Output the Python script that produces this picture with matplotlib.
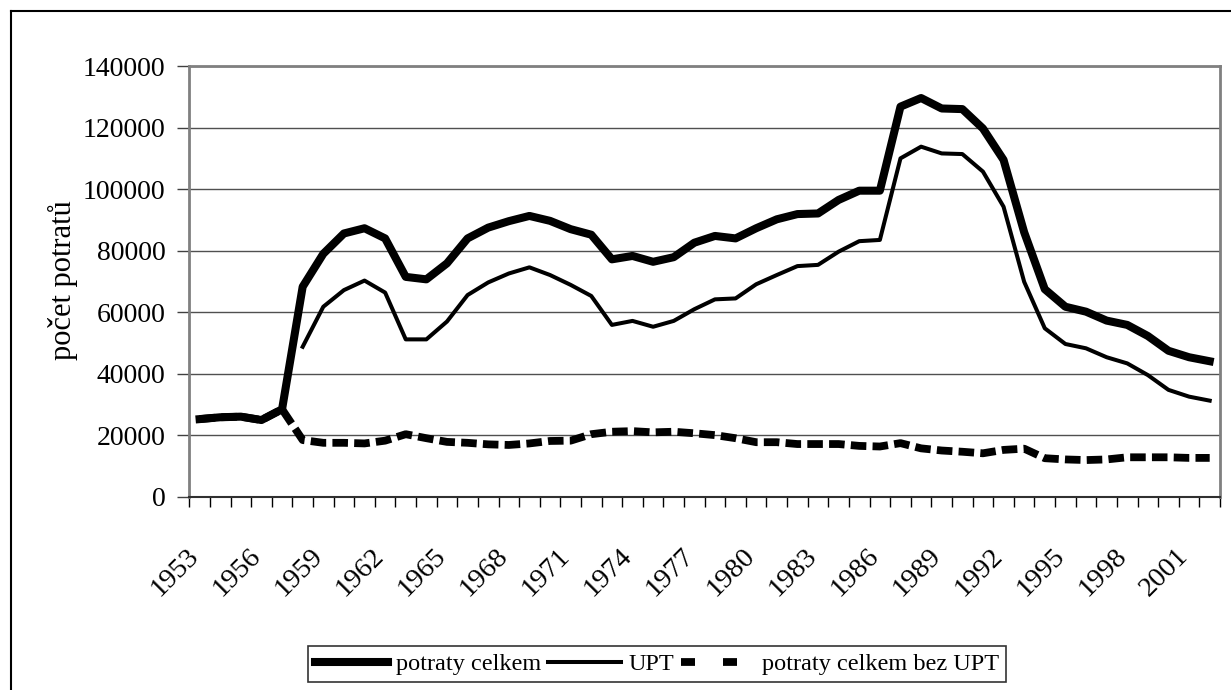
import numpy as np
import matplotlib
matplotlib.use('Agg')
import matplotlib.pyplot as plt
from matplotlib.lines import Line2D

plt.rcParams['font.family'] = ['Liberation Serif', 'DejaVu Serif']

years = list(range(1953, 2003))

potraty_celkem = [25300, 25900, 26100, 25000, 28500, 68300, 79000, 85600, 87300, 84000,
                  71500, 70700, 75900, 84000, 87500, 89600, 91300, 89700, 87000, 85200,
                  77200, 78300, 76400, 77900, 82600, 84800, 84000, 87300, 90200, 91900,
                  92100, 96500, 99500, 99500, 126800, 129600, 126200, 126000, 119700, 109500,
                  86000, 67500, 61800, 60200, 57300, 55900, 52300, 47500, 45400, 44100]

# UPT only from 1958
upt = [np.nan] * 5 + [48800, 61800, 67200, 70300, 66400, 51200, 51200, 57000, 65600, 69700,
                      72600, 74600, 72100, 68900, 65300, 55900, 57200, 55300, 57200, 61000,
                      64200, 64500, 69100, 72100, 75000, 75400, 79700, 83100, 83500, 110000,
                      113800, 111600, 111400, 105700, 94300, 69900, 54800, 49700, 48300, 45400,
                      43400, 39600, 34800, 32600, 31300]

bez_upt = [25300, 25900, 26100, 25000, 28500, 18500, 17600, 17600, 17400, 18300,
           20400, 19100, 17900, 17600, 17100, 16900, 17400, 18200, 18300, 20400,
           21200, 21400, 21000, 21200, 20700, 20100, 19100, 17800, 17800, 17200,
           17200, 17200, 16600, 16400, 17500, 15800, 15100, 14700, 14200, 15300,
           15700, 12600, 12200, 12000, 12200, 12900, 12900, 12900, 12700, 12700]

labels = ['potraty celkem', 'UPT', 'potraty celkem bez UPT']

fig = plt.figure(figsize=(12.31, 6.90), dpi=100)
ax = fig.add_axes([189.3 / 1231, 1 - 497 / 690, (1220 - 189.3) / 1231, (497 - 66) / 690])

x = np.arange(len(years))
ax.plot(x, potraty_celkem, color='black', lw=5.8, zorder=3)
ax.plot(x, upt, color='black', lw=2.9, zorder=3)
ax.plot(x, bez_upt, color='black', lw=5.6, dashes=(2.0, 0.8), dash_capstyle='butt', zorder=3)

ax.set_xlim(-0.5, len(years) - 0.5)
ax.set_ylim(0, 140000)
ax.set_yticks(np.arange(0, 140001, 20000))
ax.yaxis.grid(True, color='#505050', lw=1)
ax.set_axisbelow(True)

ax.set_xticks(np.arange(-0.5, len(years), 1))
ax.set_xticklabels([])
lab_idx = [i for i, y in enumerate(years) if (y - 1953) % 3 == 0]
ax.set_xticks(lab_idx, minor=True)
ax.set_xticklabels([str(years[i]) for i in lab_idx], minor=True, rotation=45,
                   ha='right', va='baseline', rotation_mode='anchor', fontsize=20.5)
ax.tick_params(axis='x', which='major', length=7, width=1, direction='out', color='black')
ax.tick_params(axis='x', which='minor', length=0, pad=43)
ax.tick_params(axis='y', length=9, width=1, direction='out', labelsize=20, pad=8, color='#404040')

for s in ['left', 'top', 'right']:
    ax.spines[s].set_color('#808080')
    ax.spines[s].set_linewidth(2)
ax.spines['bottom'].set_color('#303030')
ax.spines['bottom'].set_linewidth(1.5)

fig.text(63 / 1231, 1 - 280 / 690, 'počet potratů', rotation=90, ha='center', va='center', fontsize=22)

# outer chart border (open to the right and bottom like the source)
fig.add_artist(Line2D([10.5 / 1231, 10.5 / 1231], [1 - 10.5 / 690, 0], color='black', lw=1.5))
fig.add_artist(Line2D([10.5 / 1231, 1], [1 - 10.5 / 690, 1 - 10.5 / 690], color='black', lw=1.5))

handles = [Line2D([], [], color='black', lw=5.8),
           Line2D([], [], color='black', lw=2.9),
           Line2D([], [], color='black', lw=5.6, dashes=(1.8, 3.6), dash_capstyle='butt')]
leg = fig.legend(handles, labels, loc='center', bbox_to_anchor=(657 / 1231, 1 - 664 / 690), ncol=3,
                 fontsize=17.5, frameon=True, fancybox=False, edgecolor='black', handlelength=3.0,
                 handletextpad=0.3, columnspacing=0.3, borderpad=0.3, borderaxespad=0)
leg.get_frame().set_linewidth(1.2)

fig.savefig('out.png', dpi=100)
